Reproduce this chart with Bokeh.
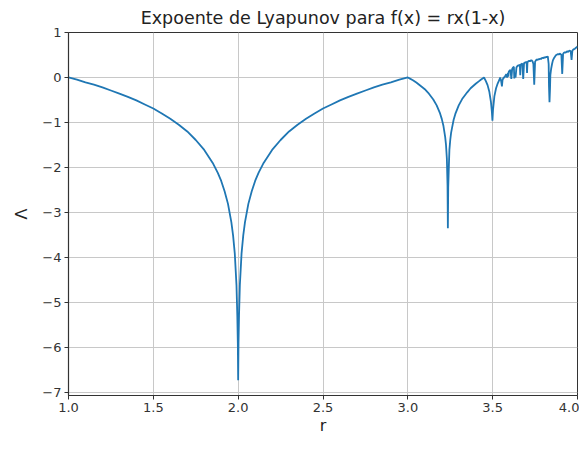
from bokeh.plotting import figure
from bokeh.models import Range1d, FixedTicker, CustomJSTickFormatter, ColumnDataSource
from bokeh.embed import file_html
from bokeh.resources import INLINE

# --- data ---
r_fixed = [1.0, 1.05, 1.1, 1.15, 1.2, 1.25, 1.3, 1.35, 1.4, 1.45, 1.5, 1.55, 1.6, 1.65, 1.7, 1.75, 1.8, 1.85, 1.88,
           1.9, 1.92, 1.94, 1.96, 1.97, 1.98, 1.99, 1.995, 1.998, 2.0,
           2.002, 2.005, 2.01, 2.02, 2.03, 2.04, 2.06, 2.08, 2.1, 2.12, 2.15, 2.2, 2.25, 2.3, 2.35, 2.4, 2.45,
           2.5, 2.55, 2.6, 2.65, 2.7, 2.75, 2.8, 2.85, 2.9, 2.95, 3.0]
lam_fixed = [0.0, -0.05, -0.11, -0.16, -0.22, -0.29, -0.36, -0.43, -0.51, -0.60, -0.69, -0.80, -0.92, -1.05, -1.20, -1.39, -1.61, -1.90, -2.12,
             -2.30, -2.53, -2.81, -3.22, -3.51, -3.91, -4.61, -5.30, -5.90, -6.73,
             -5.90, -5.30, -4.61, -3.91, -3.51, -3.22, -2.81, -2.53, -2.30, -2.12, -1.90, -1.61, -1.39, -1.20, -1.05, -0.92, -0.80,
             -0.69, -0.60, -0.51, -0.43, -0.36, -0.29, -0.22, -0.16, -0.11, -0.05, 0.0]

r_period2 = [3.01, 3.03, 3.05, 3.08, 3.1, 3.12, 3.15, 3.17, 3.19, 3.2, 3.21, 3.22, 3.225, 3.23, 3.234, 3.236,
             3.238, 3.242, 3.245, 3.25, 3.255, 3.26, 3.27, 3.28, 3.3, 3.32, 3.35, 3.37, 3.4, 3.42, 3.43, 3.449]
lam_period2 = [-0.02, -0.06, -0.11, -0.20, -0.26, -0.34, -0.49, -0.62, -0.80, -0.92, -1.08, -1.32, -1.50, -1.80, -2.40, -3.35,
               -2.45, -1.95, -1.61, -1.39, -1.23, -1.13, -0.94, -0.81, -0.62, -0.48, -0.33, -0.24, -0.14, -0.08, -0.05, 0.0]

r_period4 = [3.46, 3.47, 3.48, 3.49, 3.495, 3.4986, 3.502, 3.51, 3.52, 3.53, 3.54, 3.544, 3.55, 3.5546, 3.558, 3.5645]
lam_period4 = [-0.08, -0.17, -0.31, -0.55, -0.75, -0.96, -0.72, -0.42, -0.24, -0.13, -0.05, 0.0, -0.08, -0.20, -0.06, 0.0]

r_chaos = [3.570, 3.575, 3.580, 3.585, 3.590, 3.5925, 3.595, 3.600, 3.605, 3.610, 3.615, 3.620, 3.625, 3.6275, 3.630, 3.635,
           3.640, 3.645, 3.650, 3.655, 3.660, 3.6625, 3.665, 3.670, 3.675, 3.680, 3.685, 3.690, 3.695, 3.700, 3.7025, 3.705,
           3.710, 3.715, 3.720, 3.725, 3.730, 3.735, 3.740, 3.745, 3.750, 3.755, 3.760, 3.765, 3.770, 3.775,
           3.780, 3.785, 3.790, 3.795, 3.800, 3.805, 3.810, 3.815, 3.820, 3.825, 3.830, 3.832, 3.835, 3.838,
           3.840, 3.845, 3.850, 3.855, 3.860, 3.865, 3.870, 3.875, 3.880, 3.885, 3.890, 3.895, 3.900, 3.905,
           3.910, 3.915, 3.920, 3.925, 3.930, 3.935, 3.940, 3.945, 3.950, 3.955, 3.960, 3.965, 3.970, 3.975,
           3.980, 3.985, 3.990, 3.995, 4.000]
lam_chaos = [0.00, 0.04, 0.07, 0.00, 0.10, 0.02, 0.13, 0.15, 0.17, -0.03, 0.19, 0.22, 0.24, -0.02, 0.10, 0.00,
             0.22, 0.25, 0.27, 0.26, 0.29, 0.05, 0.28, 0.30, 0.31, -0.03, 0.32, 0.33, 0.34, 0.35, 0.10, 0.33,
             0.36, 0.37, 0.36, 0.38, 0.38, 0.36, 0.30, -0.16, 0.35, 0.38, 0.40, 0.39, 0.41, 0.40,
             0.42, 0.41, 0.43, 0.44, 0.43, 0.45, 0.44, 0.46, 0.45, 0.47, 0.30, -0.20, -0.55, -0.25,
             0.05, 0.20, 0.30, 0.38, 0.42, 0.45, 0.48, 0.50, 0.51, 0.52, 0.51, 0.53, 0.52, 0.50,
             0.08, 0.52, 0.55, 0.56, 0.55, 0.57, 0.58, 0.57, 0.59, 0.60, 0.58, 0.39, 0.60, 0.62,
             0.63, 0.64, 0.66, 0.67, 0.69]

x_ticks = [1.0, 1.5, 2.0, 2.5, 3.0, 3.5, 4.0]
y_ticks = [-7, -6, -5, -4, -3, -2, -1, 0, 1]

r_all = r_fixed + r_period2 + r_period4 + r_chaos
lam_all = lam_fixed + lam_period2 + lam_period4 + lam_chaos
src = ColumnDataSource(data=dict(r=r_all, lam=lam_all))

FONT = "DejaVu Sans"
p = figure(width=579, height=437, output_backend="svg", toolbar_location=None,
           x_range=Range1d(1.0, 4.0), y_range=Range1d(-7.07, 1.0),
           min_border_left=68, min_border_right=2, min_border_top=32, min_border_bottom=37,
           title="Expoente de Lyapunov para f(x) = rx(1-x)")
p.title.text_font = FONT
p.title.text_font_size = "17.5px"
p.title.text_font_style = "normal"
p.title.align = "center"
p.title.text_color = "#222222"
p.title.offset = 0

p.line("r", "lam", source=src, line_color="#1f77b4", line_width=1.8)

p.xaxis.ticker = FixedTicker(ticks=x_ticks)
p.yaxis.ticker = FixedTicker(ticks=y_ticks)
p.xaxis.formatter = CustomJSTickFormatter(code="return tick.toFixed(1);")
p.yaxis.formatter = CustomJSTickFormatter(code="return tick.toFixed(0).replace('-', '\u2212');")

for ax in (p.xaxis, p.yaxis):
    ax.major_label_text_font = FONT
    ax.major_label_text_font_size = "13px"
    ax.major_label_text_color = "#333333"
    ax.axis_label_text_font = FONT
    ax.axis_label_text_font_size = "16px"
    ax.axis_label_text_font_style = "normal"
    ax.axis_label_text_color = "#222222"
    ax.axis_line_color = "#333333"
    ax.axis_line_width = 1.2
    ax.major_tick_line_color = "#333333"
    ax.major_tick_in = 0
    ax.major_tick_out = 4
    ax.major_label_standoff = 3
    ax.minor_tick_line_color = None
p.yaxis.axis_label = "\u039b"
p.yaxis.axis_label_standoff = 8
p.xaxis.axis_label = "r"
p.xaxis.axis_label_standoff = 1

p.xgrid.grid_line_color = "#c8c8c8"
p.ygrid.grid_line_color = "#c8c8c8"
p.xgrid.grid_line_width = 1
p.ygrid.grid_line_width = 1
p.outline_line_color = "#333333"
p.outline_line_alpha = 1

open("out.html", "w").write(file_html(p, INLINE))
